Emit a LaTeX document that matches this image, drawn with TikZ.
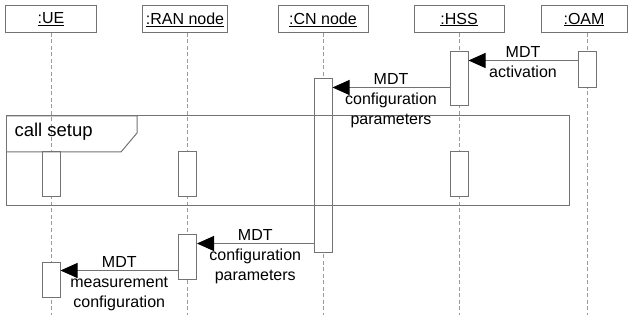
\documentclass[tikz,border=0pt]{standalone}
\usepackage{fontspec}
\setmainfont{Liberation Sans}
\usepackage{tikz}
\usetikzlibrary{arrows.meta,positioning,calc}
\usepackage{xcolor}

\begin{document}
\begin{tikzpicture}[x=1pt,y=-1pt,font=\fontsize{16}{20}\selectfont,line width=1pt,
    head/.style={draw=black!55,minimum height=27,inner sep=0pt},
    act/.style={draw=black!55,fill=white,minimum width=18,inner sep=0pt},
    life/.style={draw=black!40,dash pattern=on 4pt off 2.5pt},
    msg/.style={draw=black!55,-{Triangle[length=17pt,width=15pt,color=black]}},
    lbl/.style={align=center,inner sep=0pt,anchor=north}]
  \useasboundingbox (0,0) rectangle (628,320);
  \foreach \n/\t/\x/\w/\l in {ue/UE/51/91/51,ran/RAN node/185/85/187,cn/CN node/323/90/323,hss/HSS/459/90/459,oam/OAM/584/86/587}{
    \node[head,minimum width=\w] (\n) at (\x,19.5) {\underline{:\t}};
    \coordinate (\n top) at (\l,33);
    \coordinate (\n end) at (\l,315);
    \draw[life] (\n top) -- (\n end);
  }
  % activations
  \node[act,minimum height=36] (oam1) at (587,70) {};
  \node[act,minimum height=54] (hss1) at (459,79) {};
  \node[act,minimum height=173] (cn1) at (323,165.5) {};
  \foreach \n/\x in {ue2/51,ran2/187.5,hss2/459}{
    \node[act,minimum height=45] (\n) at (\x,174.5) {};
  }
  \node[act,minimum height=45] (ran3) at (187.5,256.5) {};
  \node[act,minimum height=35] (ue3) at (51,279.5) {};
  % call setup frame
  \draw[black!55] (6,116) rectangle (569,206);
  \draw[black!55] (6,116) -- (137,116) -- (137,133) -- (121,152) -- (6,152);
  \node[anchor=west,inner sep=0pt,font=\fontsize{18.5}{22}\selectfont] (setup) at (14,132) {call setup};
  % messages
  \coordinate (m1) at ([yshift=-9pt]oam1.north west);
  \draw[msg] (m1) -- (m1 -| hss1.east);
  \node[lbl] (l1) at ($(m1)!0.5!(m1 -| hss1.east)+(0,-15)$) {MDT\\activation};
  \coordinate (m2) at ([yshift=-36pt]hss1.north west);
  \draw[msg] (m2) -- (m2 -| cn1.east);
  \node[lbl] (l2) at ($(m2)!0.5!(m2 -| cn1.east)+(0,-15)$) {MDT\\configuration\\parameters};
  \coordinate (m3) at ([yshift=9pt]cn1.south west);
  \draw[msg] (m3) -- (m3 -| ran3.east);
  \node[lbl] (l3) at ($(m3)!0.5!(m3 -| ran3.east)+(0,-15)$) {MDT\\configuration\\parameters};
  \coordinate (m4) at ([yshift=-9pt]ue3.north east);
  \draw[msg] (m4 -| ran3.west) -- (m4);
  \node[lbl] (l4) at ($(m4 -| ran3.west)!0.5!(m4)+(0,-15)$) {MDT\\measurement\\configuration};
\end{tikzpicture}
\end{document}
